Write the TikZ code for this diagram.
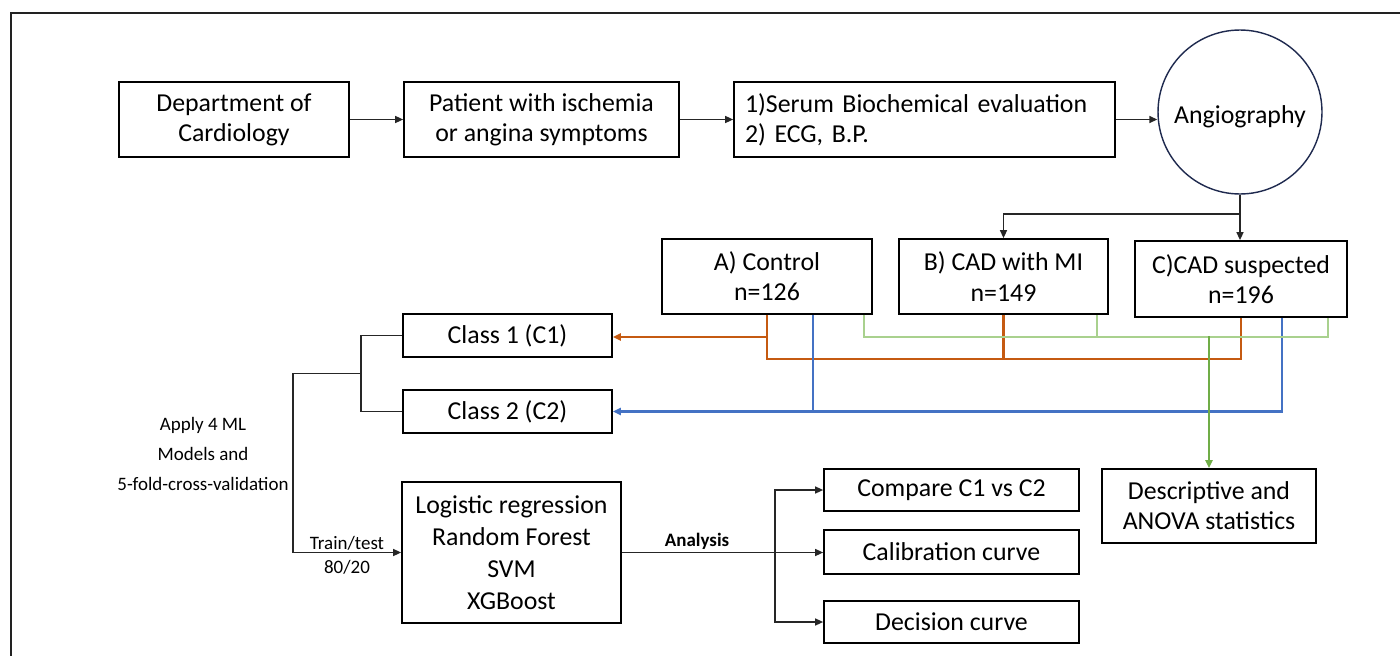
\documentclass[tikz,border=0pt]{standalone}
\usepackage{fontspec}
\setmainfont{Carlito}
\usetikzlibrary{arrows.meta,calc}

\definecolor{orangeline}{HTML}{C55A11}
\definecolor{blueline}{HTML}{4472C4}
\definecolor{lightgreen}{HTML}{A9D18E}
\definecolor{darkgreen}{HTML}{70AD47}
\definecolor{navy}{HTML}{1F2A4F}
\definecolor{framegray}{HTML}{222222}

\newcommand{\bigtxt}{\fontsize{14.7}{17.2}\selectfont}
\newcommand{\smalltxt}{\fontsize{10.8}{13.5}\selectfont}

\begin{document}
\begin{tikzpicture}[x=0.02cm,y=-0.02cm,
  box/.style={draw=black,line width=1pt,inner sep=0pt,align=center,font=\bigtxt},
  conn/.style={draw=black!85,line width=0.8pt},
  arr/.style={conn,-{Triangle[length=1.6mm,width=1.4mm]}},
  org/.style={draw=orangeline,line width=1.25pt},
  blu/.style={draw=blueline,line width=1.25pt},
  lgr/.style={draw=lightgreen,line width=1.25pt},
  dgr/.style={draw=darkgreen,line width=1.25pt},
  ctip/.style={-{Triangle[length=1.6mm,width=1.4mm]}}]

\useasboundingbox (0,0) rectangle (1400,656);
\fill[white] (0,0) rectangle (1400,656);

% outer frame (top and left edges)
\draw[framegray,line width=1.4pt] (11,656) -- (11,13) -- (1400,13);

% top row
\node[box,minimum width=4.6cm,minimum height=1.5cm] (dept) at (234,119.5) {Department of\\Cardiology};
\node[box,minimum width=5.5cm,minimum height=1.5cm] (pat) at (541.5,119.5) {Patient with ischemia\\or angina symptoms};
\node[box,minimum height=1.5cm,inner xsep=0.22cm,text width=7.18cm,align=left] (serum) at (924.5,119.5) {1)Serum Biochemical evaluation\\2) ECG, B.P.};
\node[draw=navy,line width=0.8pt,circle,minimum size=3.28cm,inner sep=0pt] (angio) at (1240,112) {};
\node[font=\bigtxt] (angiotxt) at (1240,117) {Angiography};

% groups
\node[box,minimum width=4.2cm,minimum height=1.5cm] (actl) at (767,276.5) {A) Control\\n=126};
\node[box,minimum width=4.18cm,minimum height=1.5cm] (bcad) at (1003.5,276.5) {B) CAD with MI\\n=149};
\node[box,minimum width=4.24cm,minimum height=1.52cm] (ccad) at (1241,279) {C)CAD suspected\\n=196};

% classes
\node[box,minimum width=4.18cm,minimum height=0.86cm] (cone) at (507.5,335.5) {Class 1 (C1)};
\node[box,minimum width=4.18cm,minimum height=0.86cm] (ctwo) at (507.5,411.5) {Class 2 (C2)};

% models and analyses
\node[box,minimum width=4.38cm,minimum height=2.82cm,font=\fontsize{14.7}{18.2}\selectfont] (logit) at (511.5,552.5) {Logistic regression\\Random Forest\\SVM\\XGBoost};
\node[box,minimum width=5.1cm,minimum height=0.84cm] (cmp) at (951.5,490) {Compare C1 vs C2};
\node[box,minimum width=5.1cm,minimum height=0.88cm] (cal) at (951.5,552) {Calibration curve};
\node[box,minimum width=5.1cm,minimum height=0.84cm] (dec) at (951.5,622) {Decision curve};
\node[box,minimum width=4.28cm,minimum height=1.48cm] (desc) at (1209,506) {Descriptive and\\ANOVA statistics};

% labels
\node[align=center,font=\fontsize{10.8}{17}\selectfont] (apply) at (203,454) {Apply 4 ML\\Models and\\5-fold-cross-validation};
\node[align=center,font=\smalltxt] (split) at (347,555) {Train/test\\80/20};
\node[font=\smalltxt\bfseries] (anl) at (697,541) {Analysis};

% top flow
\draw[arr] (dept.east) -- (pat.west);
\draw[arr] (pat.east) -- (serum.west);
\draw[arr] (serum.east) -- (serum.east -| angio.west);

% angiography branches
\coordinate (br) at (1240,214);
\draw[conn] (angio.south) -- (br);
\draw[arr] (br) -| (bcad.north);
\draw[arr] (br) -- (br |- ccad.north);

% orange: groups A, B, C to class 1
\coordinate (oline) at (0,359);
\draw[org] (actl.south) -- (actl.south |- oline) -| (ccad.south);
\draw[org] (bcad.south) -- (bcad.south |- oline);
\draw[org,ctip] (actl.south |- 0,337) -- (cone.east |- 0,337);

% blue: groups A and C to class 2
\draw[blu,ctip] ($(ccad.south)+(41,0)$) |- (ctwo.east);
\draw[blu] ($(actl.south)+(46,0)$) -- ++(0,97.5);

% green: all groups to descriptive statistics
\coordinate (gline) at (0,336);
\draw[lgr] ($(actl.south east)+(-9,0)$) -- ++(0,22) -| ($(ccad.south east)+(-20,0)$);
\draw[lgr] ($(bcad.south east)+(-12,0)$) -- ++(0,22);
\draw[dgr,ctip] (desc.north |- gline) -- (desc.north);

% classes to models
\coordinate (tj) at (361,373.5);
\coordinate (tl) at (293,373.5);
\draw[conn] (cone.west) -| (tj) |- (ctwo.west);
\draw[arr] (tj) -- (tl) |- (logit.west);

% models to analyses
\coordinate (aj) at (775,552.5);
\draw[conn] (logit.east) -- (aj);
\draw[arr] (aj) |- (cmp.west);
\draw[arr] (aj) -- (aj -| cal.west);
\draw[arr] (aj) |- (dec.west);

\end{tikzpicture}
\end{document}
